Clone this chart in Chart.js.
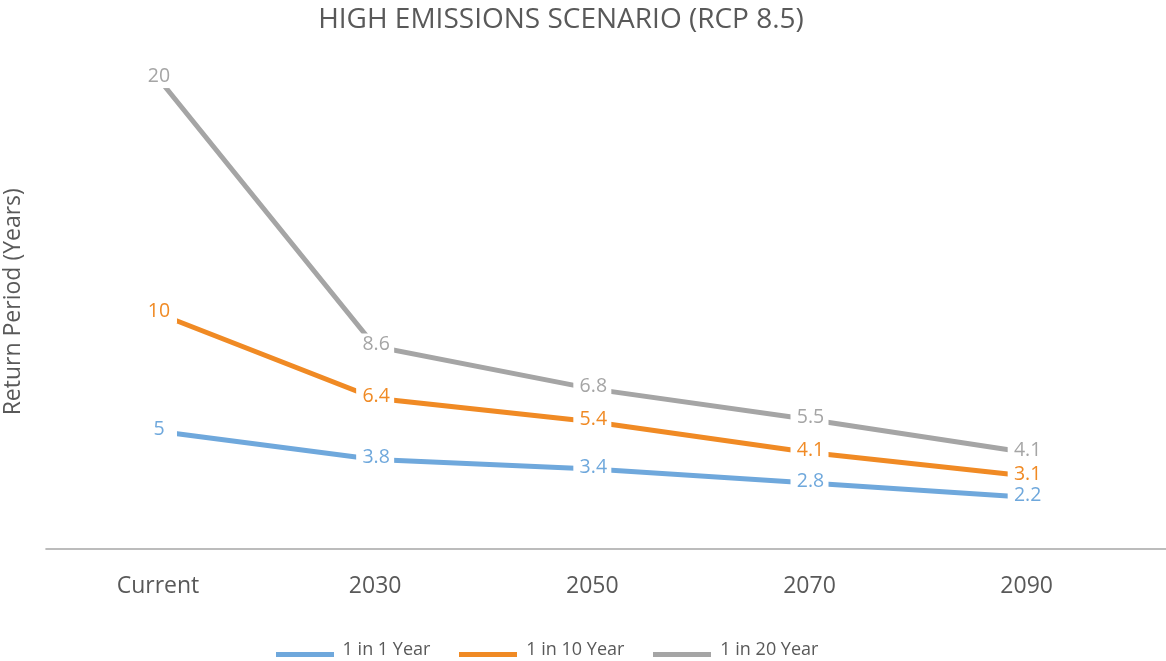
<!DOCTYPE html>
<html>
<head>
<meta charset="utf-8">
<script src="https://cdn.jsdelivr.net/npm/chart.js@4.4.1/dist/chart.umd.min.js"></script>
<style>
  html, body { margin: 0; padding: 0; background: #ffffff; }
  #wrap { width: 1166px; height: 661px; position: relative; }
</style>
</head>
<body>
<div id="wrap"><canvas id="chart"></canvas></div>
<script>
// Return periods (years) for each horizon
const categories = ['Current', '2030', '2050', '2070', '2090'];
const oneInOne = [5, 3.8, 3.4, 2.8, 2.2];
const oneInTen = [10, 6.4, 5.4, 4.1, 3.1];
const oneInTwenty = [20, 8.6, 6.8, 5.5, 4.1];
const seriesNames = ['1 in 1 Year', '1 in 10 Year', '1 in 20 Year'];
const seriesColors = ['#6fa8dc', '#f08a24', '#a5a5a5'];
const chartTitle = 'HIGH EMISSIONS SCENARIO (RCP 8.5)';
const yTitle = 'Return Period (Years)';

const TEXT = '#595959';
const FONT = '"Open Sans", "Noto Sans", sans-serif';

const toPoints = arr => arr.map((v, i) => ({ x: i, y: v }));

// Legend swatch: a thick line sitting low in its box
function swatch(color) {
  const c = document.createElement('canvas');
  c.width = 58; c.height = 18;
  const g = c.getContext('2d');
  g.fillStyle = color;
  g.fillRect(0, 11, 58, 5);
  return c;
}

// Title centred slightly left of the canvas centre
const titlePlugin = {
  id: 'titleText',
  afterDraw(chart) {
    const ctx = chart.ctx;
    ctx.save();
    ctx.font = '28px ' + FONT;
    ctx.fillStyle = TEXT;
    ctx.textAlign = 'center';
    ctx.textBaseline = 'middle';
    ctx.fillText(chartTitle, 561, 20);
    ctx.restore();
  }
};

// Category baseline running out to the right edge
const baseline = {
  id: 'baseline',
  beforeDatasetsDraw(chart) {
    const { ctx, chartArea } = chart;
    ctx.save();
    ctx.strokeStyle = '#a6a6a6';
    ctx.lineWidth = 1.5;
    ctx.beginPath();
    ctx.moveTo(chartArea.left - 4, chartArea.bottom);
    ctx.lineTo(chart.width, chartArea.bottom);
    ctx.stroke();
    ctx.restore();
  }
};

// Value labels on a white plate that interrupts the line
const valueLabels = {
  id: 'valueLabels',
  afterDatasetsDraw(chart) {
    const ctx = chart.ctx;
    ctx.save();
    ctx.font = '19.5px ' + FONT;
    ctx.textAlign = 'center';
    ctx.textBaseline = 'middle';
    chart.data.datasets.forEach((ds, di) => {
      const meta = chart.getDatasetMeta(di);
      meta.data.forEach((pt, i) => {
        ctx.fillStyle = '#ffffff';
        ctx.fillRect(pt.x - 19, pt.y - 13, 38, 23);
        ctx.fillStyle = ds.borderColor;
        ctx.fillText(String(ds.data[i].y), pt.x + 1, pt.y - 2);
      });
    });
    ctx.restore();
  }
};

const datasets = [oneInOne, oneInTen, oneInTwenty].map((vals, k) => ({
  label: seriesNames[k],
  data: toPoints(vals),
  borderColor: seriesColors[k],
  backgroundColor: seriesColors[k],
  borderWidth: 5,
  borderCapStyle: 'butt',
  pointRadius: 0,
  pointHoverRadius: 0,
  tension: 0,
  clip: false
}));

new Chart(document.getElementById('chart'), {
  type: 'line',
  data: { datasets },
  options: {
    responsive: true,
    maintainAspectRatio: false,
    animation: false,
    events: [],
    layout: { padding: { top: 54.5, right: 72, bottom: -8, left: 0 } },
    scales: {
      x: {
        type: 'linear',
        min: -0.5,
        max: 4.31,
        afterBuildTicks(scale) {
          scale.ticks = categories.map((_, i) => ({ value: i }));
        },
        afterFit(scale) { scale.height = 63; },
        grid: { display: false, drawTicks: false },
        border: { display: false },
        ticks: {
          autoSkip: false,
          maxRotation: 0,
          padding: 24,
          color: TEXT,
          font: { family: FONT, size: 23 },
          callback: v => categories[v]
        }
      },
      y: {
        min: 0,
        max: 21,
        afterFit(scale) { scale.width = 49.4; },
        grid: { display: false, drawTicks: false },
        border: { display: false },
        ticks: { display: false },
        title: {
          display: true,
          text: yTitle,
          color: TEXT,
          font: { family: FONT, size: 23 },
          padding: { top: 0, bottom: 0 }
        }
      }
    },
    plugins: {
      title: { display: false },
      tooltip: { enabled: false },
      legend: {
        position: 'bottom',
        labels: {
          color: TEXT,
          font: { family: FONT, size: 18 },
          usePointStyle: true,
          pointStyleWidth: 58,
          boxHeight: 18,
          padding: 29,
          generateLabels(chart) {
            return chart.data.datasets.map((ds, i) => ({
              text: ds.label,
              fillStyle: ds.borderColor,
              strokeStyle: ds.borderColor,
              lineWidth: 0,
              fontColor: TEXT,
              pointStyle: swatch(ds.borderColor),
              hidden: false,
              datasetIndex: i
            }));
          }
        }
      }
    }
  },
  plugins: [baseline, valueLabels, titlePlugin]
});
</script>
</body>
</html>
